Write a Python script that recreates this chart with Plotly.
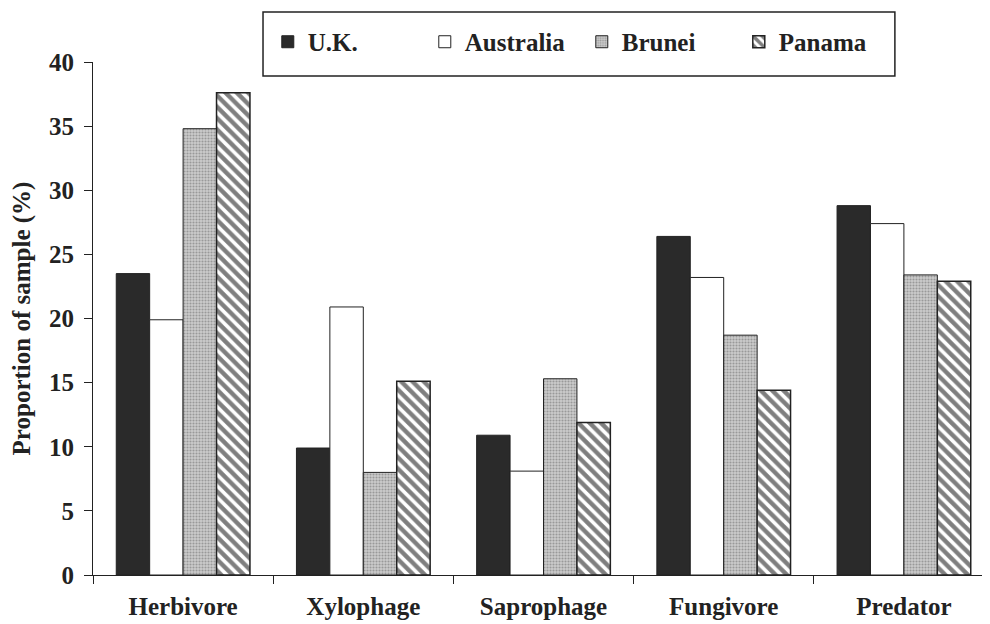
import plotly.graph_objects as go

categories = ["Herbivore", "Xylophage", "Saprophage", "Fungivore", "Predator"]
uk = [23.5, 9.9, 10.9, 26.4, 28.8]
australia = [19.9, 20.9, 8.1, 23.2, 27.4]
brunei = [34.8, 8.0, 15.3, 18.7, 23.4]
panama = [37.6, 15.1, 11.9, 14.4, 22.9]
series_names = ["U.K.", "Australia", "Brunei", "Panama"]
y_ticks = [0, 5, 10, 15, 20, 25, 30, 35, 40]

FONT = "Liberation Serif"
INK = "#222222"

fig = go.Figure()
fig.add_trace(go.Bar(name=series_names[0], x=categories, y=uk,
                     marker=dict(color="#2a2a2a", line=dict(color=INK, width=1))))
fig.add_trace(go.Bar(name=series_names[1], x=categories, y=australia,
                     marker=dict(color="white", line=dict(color=INK, width=1))))
fig.add_trace(go.Bar(name=series_names[2], x=categories, y=brunei,
                     marker=dict(color="#c4c4c4", line=dict(color=INK, width=1),
                                 pattern=dict(shape=".", fgcolor="#666666", bgcolor="#cccccc",
                                              size=3, solidity=0.4))))
fig.add_trace(go.Bar(name=series_names[3], x=categories, y=panama,
                     marker=dict(color="white", line=dict(color=INK, width=1.5),
                                 pattern=dict(shape="\\", fgcolor="#000000", bgcolor="white",
                                              size=8, solidity=0.55))))

fig.update_layout(
    width=990, height=624,
    margin=dict(l=85, r=4, t=54, b=57),
    paper_bgcolor="white", plot_bgcolor="white",
    barmode="group", bargap=0.258, bargroupgap=0,
    font=dict(family=FONT, size=25, color=INK),
    showlegend=True,
    legend=dict(orientation="h", x=0.194, xanchor="left", y=1.039, yanchor="middle",
                borderwidth=0, bgcolor="rgba(0,0,0,0)",
                font=dict(family=FONT, size=25, color=INK, weight="bold"),
                entrywidth=112, entrywidthmode="pixels", traceorder="normal"),
    shapes=[dict(type="rect", xref="paper", yref="paper", x0=0.1887, x1=0.890,
                 y0=0.9727, y1=1.0975, line=dict(color=INK, width=1.5),
                 fillcolor="rgba(0,0,0,0)", layer="above")],
    xaxis=dict(type="category", showline=True, linecolor=INK, linewidth=1,
               ticks="outside", tickson="boundaries", ticklen=8, tickcolor=INK,
               ticklabelstandoff=9,
               tickfont=dict(family=FONT, size=25, color=INK, weight="bold"),
               showgrid=False, zeroline=False),
    yaxis=dict(range=[0, 40], tickvals=y_ticks, showline=True, linecolor=INK, linewidth=1,
               ticks="outside", ticklen=8, tickcolor=INK, ticklabelstandoff=5,
               tickfont=dict(family=FONT, size=25, color=INK, weight="bold"),
               showgrid=False, zeroline=False,
               title=dict(text="Proportion of sample (%)", standoff=13,
                          font=dict(family=FONT, size=25, color=INK, weight="bold"))),
)

fig.write_html("out.html")
